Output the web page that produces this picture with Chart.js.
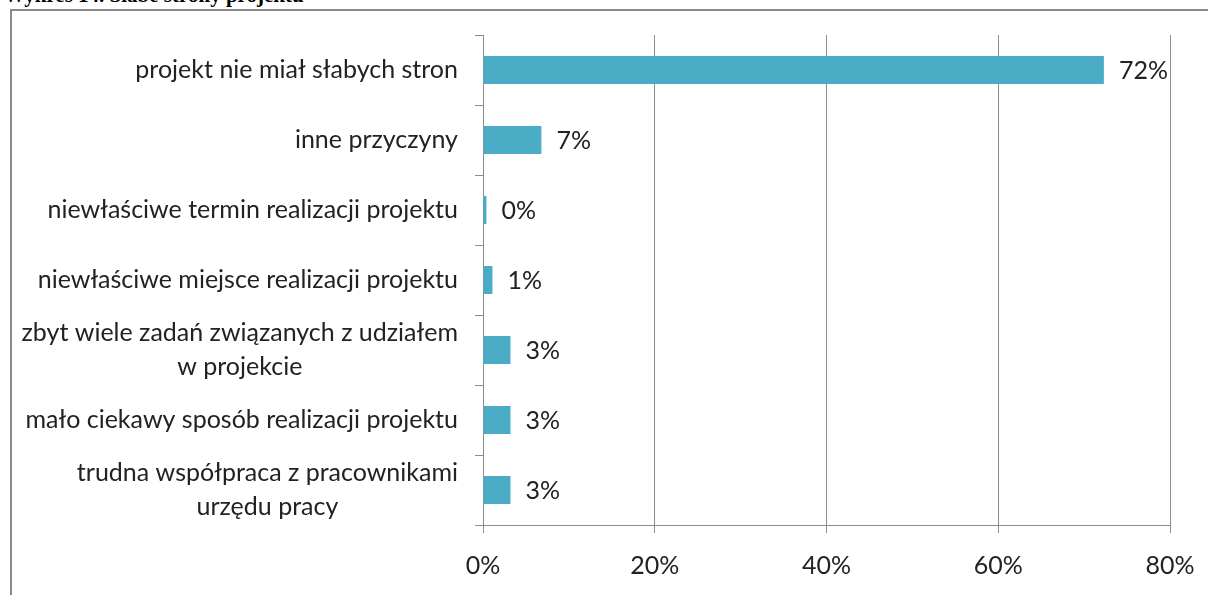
<!DOCTYPE html>
<html>
<head>
<meta charset="utf-8">
<script src="https://cdn.jsdelivr.net/npm/chart.js@4"></script>
<style>
  html, body { margin: 0; padding: 0; background: #fff; }
  body { width: 1208px; height: 595px; position: relative; overflow: hidden; }
  #title {
    position: absolute; left: 4px; top: -17px;
    font: bold 21px "Liberation Serif", serif; color: #000; white-space: nowrap;
  }
  #frame {
    position: absolute; left: 10px; top: 9px; width: 1210px; height: 600px;
    border-top: 2px solid #8a8a8a; border-left: 2px solid #8a8a8a;
  }
  #chart { position: absolute; left: 0; top: 0; }
</style>
</head>
<body>
<div id="title">Wykres 14. Słabe strony projektu</div>
<div id="frame"></div>
<canvas id="chart" width="1208" height="595"></canvas>
<script>
// categories, top to bottom
const categories = [
  ['projekt nie miał słabych stron'],
  ['inne przyczyny'],
  ['niewłaściwe termin realizacji projektu'],
  ['niewłaściwe miejsce realizacji projektu'],
  ['zbyt wiele zadań związanych z udziałem', 'w projekcie'],
  ['mało ciekawy sposób realizacji projektu'],
  ['trudna współpraca z pracownikami', 'urzędu pracy']
];
const shares = [72.3, 6.8, 0.4, 1.1, 3.2, 3.2, 3.2];
const shareLabels = ['72%', '7%', '0%', '1%', '3%', '3%', '3%'];
const xTicks = [0, 20, 40, 60, 80];

const FONT = 'Lato, sans-serif';
const FSIZE = 25;
const TEXT = '#222';
const GRID = '#8c8c8c';

// category labels: block right-aligned, lines centred inside the block
const catLabels = {
  id: 'catLabels',
  afterDraw(chart) {
    const ctx = chart.ctx;
    const y = chart.scales.y;
    ctx.save();
    ctx.font = FSIZE + 'px ' + FONT;
    ctx.fillStyle = TEXT;
    ctx.textBaseline = 'middle';
    ctx.textAlign = 'center';
    const right = y.right - 25;
    const lh = 34;
    categories.forEach((lines, i) => {
      const cy = y.getPixelForValue(i);
      const w = Math.max(...lines.map(l => ctx.measureText(l).width));
      const cx = right - w / 2;
      lines.forEach((l, j) => {
        ctx.fillText(l, cx, cy + (j - (lines.length - 1) / 2) * lh);
      });
    });
    ctx.restore();
  }
};

const valueLabels = {
  id: 'valueLabels',
  afterDatasetsDraw(chart) {
    const ctx = chart.ctx;
    const meta = chart.getDatasetMeta(0);
    ctx.save();
    ctx.font = FSIZE + 'px ' + FONT;
    ctx.fillStyle = TEXT;
    ctx.textBaseline = 'middle';
    ctx.textAlign = 'left';
    meta.data.forEach((bar, i) => {
      ctx.fillText(shareLabels[i], bar.x + 15, bar.y + 1);
    });
    ctx.restore();
  }
};

new Chart(document.getElementById('chart'), {
  type: 'bar',
  data: {
    labels: categories,
    datasets: [{
      data: shares,
      backgroundColor: '#4bacc6',
      borderWidth: 0,
      categoryPercentage: 1,
      barPercentage: 0.4
    }]
  },
  options: {
    indexAxis: 'y',
    responsive: false,
    animation: false,
    events: [],
    layout: { padding: { top: 35, right: 38, left: 0, bottom: 0 } },
    plugins: { legend: { display: false }, tooltip: { enabled: false } },
    scales: {
      x: {
        min: 0, max: 80,
        afterBuildTicks(scale) { scale.ticks = xTicks.map(v => ({ value: v })); },
        afterFit(scale) {
          scale.height = 70;
          scale.paddingLeft = 0;
          scale.paddingRight = 0;
        },
        grid: { color: GRID, lineWidth: 1, tickLength: 8 },
        border: { color: GRID, width: 1 },
        ticks: {
          padding: 18,
          color: TEXT,
          font: { family: FONT, size: FSIZE },
          callback: v => v + '%'
        }
      },
      y: {
        afterFit(scale) { scale.width = 483; },
        grid: { display: true, drawOnChartArea: false, offset: true, color: GRID, tickLength: 8 },
        border: { color: GRID, width: 1 },
        ticks: { display: false }
      }
    }
  },
  plugins: [catLabels, valueLabels]
});
</script>
</body>
</html>
